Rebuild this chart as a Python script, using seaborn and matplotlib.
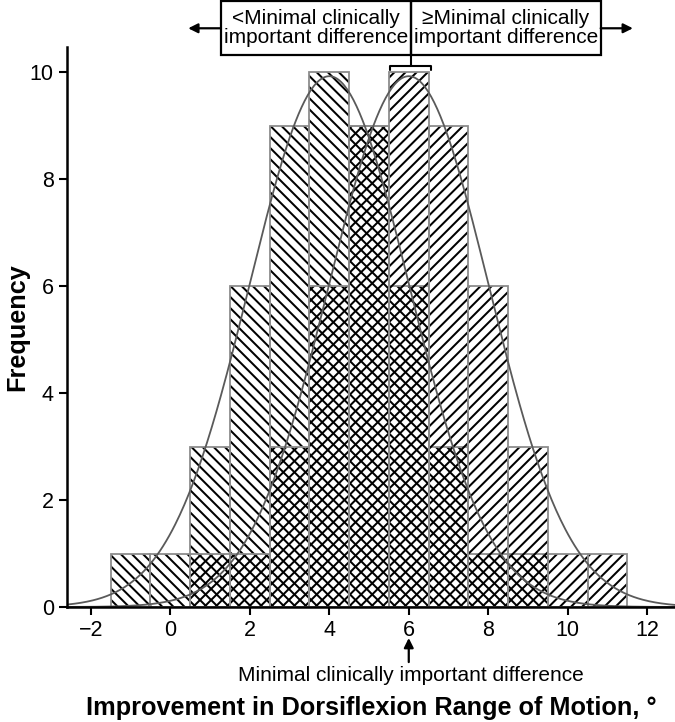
import numpy as np
import pandas as pd
import matplotlib
matplotlib.use("Agg")
import matplotlib.pyplot as plt
from matplotlib.patches import Rectangle
import seaborn as sns

# Style
sns.set_style("ticks")
plt.rcParams['font.family'] = ['Liberation Sans', 'DejaVu Sans']
plt.rcParams['hatch.linewidth'] = 1.45
for key in ['text.color', 'axes.labelcolor', 'xtick.color', 'ytick.color']:
    plt.rcParams[key] = 'black'

# Histogram data (bin centre, count)
group_a_values = [-1, 0, 1, 2, 3, 4, 5, 6, 7, 8, 9]
group_a_counts = [1, 1, 3, 6, 9, 10, 9, 6, 3, 1, 1]
group_b_values = [1, 2, 3, 4, 5, 6, 7, 8, 9, 10, 11]
group_b_counts = [1, 1, 3, 6, 9, 10, 9, 6, 3, 1, 1]

x_ticks = [-2, 0, 2, 4, 6, 8, 10, 12]
y_ticks = [0, 2, 4, 6, 8, 10]
mcid = 6

df_a = pd.DataFrame({'improvement': group_a_values, 'count': group_a_counts})
df_b = pd.DataFrame({'improvement': group_b_values, 'count': group_b_counts})

fig = plt.figure(figsize=(6.75, 7.22), dpi=100)
ax = fig.add_axes([0.0993, 0.1593, 0.9007, 0.7756])

# Hatched bars (hatch only) then grey outlines
for df, hatch in [(df_a, '\\\\\\'), (df_b, '///')]:
    sns.histplot(data=df, x='improvement', weights='count', discrete=True,
                 fill=True, facecolor='none', edgecolor='black', linewidth=0,
                 hatch=hatch, ax=ax)
    sns.histplot(data=df, x='improvement', weights='count', discrete=True,
                 fill=False, color='#8c8c8c', linewidth=1.3, ax=ax)

# Fitted normal curves
grid = np.linspace(-2.6, 12.7, 400)
for df in [df_a, df_b]:
    n = df['count'].sum()
    mu = (df['improvement'] * df['count']).sum() / n
    sd = np.sqrt(((df['improvement'] - mu) ** 2 * df['count']).sum() / n)
    curve = n * np.exp(-0.5 * ((grid - mu) / sd) ** 2) / (sd * np.sqrt(2 * np.pi))
    sns.lineplot(x=grid, y=curve, color='#5a5a5a', linewidth=1.3, ax=ax)

ax.set_xlim(-2.6, 12.7)
ax.set_ylim(0, 10.47)
ax.set_xticks(x_ticks)
ax.set_xticklabels([str(t).replace('-', '\u2212') for t in x_ticks])
ax.set_yticks(y_ticks)
ax.tick_params(labelsize=15.5, width=1.5, length=6, color='black')
sns.despine(ax=ax)
for s in ['left', 'bottom']:
    ax.spines[s].set_linewidth(1.8)
    ax.spines[s].set_color('black')

ax.set_xlabel('Improvement in Dorsiflexion Range of Motion, \u00b0', fontsize=18.2, fontweight='bold')
ax.xaxis.label.set_va('center')
ax.xaxis.set_label_coords(0.5, -0.18)
ax.set_ylabel('Frequency', fontsize=18.2, fontweight='bold')
ax.yaxis.label.set_va('center')
ax.yaxis.set_label_coords(-0.082, 0.5)

# Top boxes with arrows
div = 6.05
box_lo, box_hi = 10.32, 11.33
ax.add_patch(Rectangle((1.27, box_lo), div - 1.27, box_hi - box_lo, fill=False,
                       edgecolor='black', linewidth=1.6, clip_on=False))
ax.add_patch(Rectangle((div, box_lo), 10.83 - div, box_hi - box_lo, fill=False,
                       edgecolor='black', linewidth=1.6, clip_on=False))
ax.text((1.27 + div) / 2, (box_lo + box_hi) / 2, '<Minimal clinically\nimportant difference',
        ha='center', va='center', fontsize=15.0, linespacing=1.0, clip_on=False)
ax.text((div + 10.83) / 2, (box_lo + box_hi) / 2, '\u2265Minimal clinically\nimportant difference',
        ha='center', va='center', fontsize=15.0, linespacing=1.0, clip_on=False)
arrow = dict(arrowstyle='-|>', color='black', lw=1.6, mutation_scale=14, shrinkA=0, shrinkB=0)
ax.annotate('', xy=(0.45, 10.82), xytext=(1.27, 10.82), arrowprops=arrow, annotation_clip=False)
ax.annotate('', xy=(11.64, 10.82), xytext=(10.83, 10.82), arrowprops=arrow, annotation_clip=False)

# Bracket over the MCID bar
ax.plot([div, div], [box_lo, 10.12], color='black', lw=1.5, clip_on=False)
ax.plot([5.52, 5.52, 6.55, 6.55], [10.04, 10.12, 10.12, 10.04], color='black', lw=1.5, clip_on=False)

# Bottom MCID arrow and label
ax.annotate('', xy=(mcid, -0.58), xytext=(mcid, -1.03), arrowprops=arrow, annotation_clip=False)
ax.text(div, -1.29, 'Minimal clinically important difference', ha='center', va='center',
        fontsize=15, clip_on=False)

plt.savefig('out.png', dpi=100)
